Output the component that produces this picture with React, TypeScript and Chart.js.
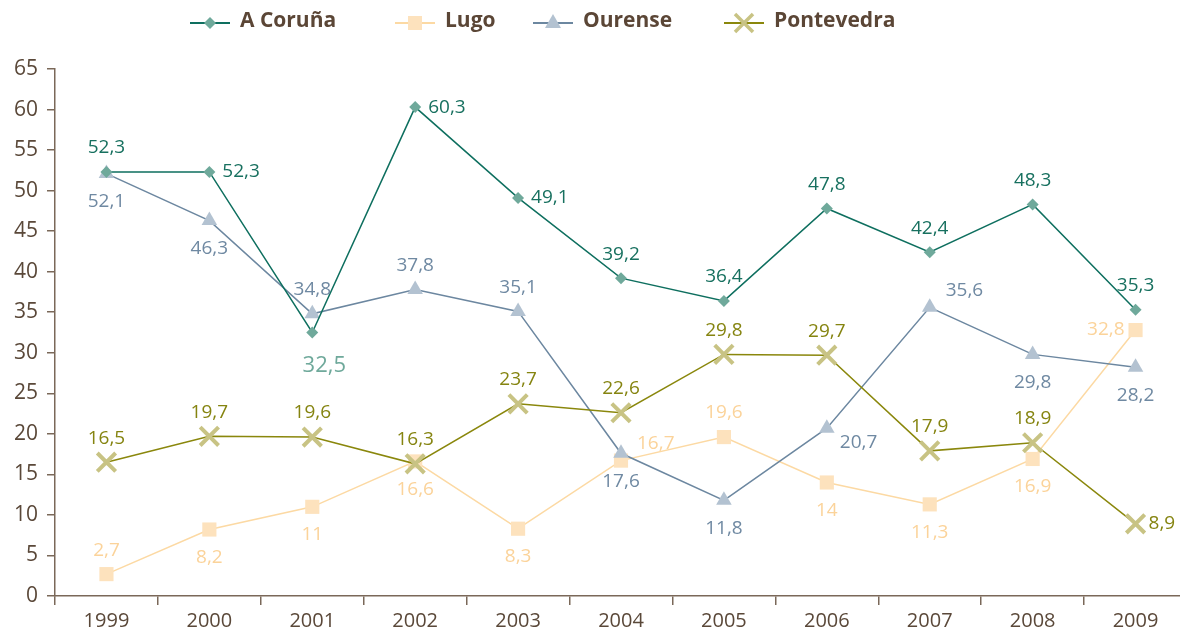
import React, { useEffect, useRef } from 'react';
import { Chart, registerables } from 'chart.js';

Chart.register(...registerables);

const years = ['1999', '2000', '2001', '2002', '2003', '2004', '2005', '2006', '2007', '2008', '2009'];
const coruna = [52.3, 52.3, 32.5, 60.3, 49.1, 39.2, 36.4, 47.8, 42.4, 48.3, 35.3];
const lugo = [2.7, 8.2, 11, 16.6, 8.3, 16.7, 19.6, 14, 11.3, 16.9, 32.8];
const ourense = [52.1, 46.3, 34.8, 37.8, 35.1, 17.6, 11.8, 20.7, 35.6, 29.8, 28.2];
const pontevedra = [16.5, 19.7, 19.6, 16.3, 23.7, 22.6, 29.8, 29.7, 17.9, 18.9, 8.9];
const seriesNames = ['A Coruña', 'Lugo', 'Ourense', 'Pontevedra'];
const yMin = 0;
const yMax = 65;
const yStep = 5;

// label placement codes: t = top, b = bottom, r = right, l = left, tr = top-right, br = bottom-right, B = emphasised bottom
const corunaLabelPos = ['t', 'r', 'B', 'r', 'r', 't', 't', 't', 't', 't', 't'];
const lugoLabelPos = ['t', 'b', 'b', 'b', 'b', 'tr', 't', 'b', 'b', 'b', 'l'];
const ourenseLabelPos = ['b', 'b', 't', 't', 't', 'b', 'b', 'br', 'tr', 'b', 'b'];
const pontevedraLabelPos = ['t', 't', 't', 't', 't', 't', 't', 't', 't', 't', 'r'];

const FONT = '"Open Sans", "DejaVu Sans", sans-serif';
const AXIS = '#7a6859';
const TICK = '#5a4839';

const styles = [
  { line: '#0e6f5f', marker: '#6fa99b', label: '#17705f', shape: 'diamond' },
  { line: '#fcd9a3', marker: '#fde2bd', label: '#fbd39a', shape: 'square' },
  { line: '#6c87a0', marker: '#b3c2d1', label: '#6f89a2', shape: 'triangle' },
  { line: '#8a870c', marker: '#c8c384', label: '#858410', shape: 'x' },
];

function fmt(v: number) {
  return String(v).replace('.', ',');
}

const labelPlugin = {
  id: 'valueLabels',
  afterDatasetsDraw(chart: any) {
    const ctx = chart.ctx;
    ctx.save();
    ctx.textBaseline = 'middle';
    chart.data.datasets.forEach((ds: any, di: number) => {
      const meta = chart.getDatasetMeta(di);
      meta.data.forEach((el: any, i: number) => {
        const text = fmt(ds.data[i]);
        let x = el.x;
        let y = el.y;
        let align: CanvasTextAlign = 'center';
        let size = 19;
        let color = ds.labelColor;
        switch (ds.labelPos[i]) {
          case 't': y -= 24; break;
          case 'b': y += 28; break;
          case 'B': y += 33; x += 12; size = 22; color = styles[0].marker; break;
          case 'r': x += 13; align = 'left'; break;
          case 'l': x -= 11; align = 'right'; break;
          case 'tr': x += 16; y -= 17; align = 'left'; break;
          case 'br': x += 13; y += 14; align = 'left'; break;
        }
        ctx.font = `${size}px ${FONT}`;
        ctx.fillStyle = color;
        ctx.textAlign = align;
        ctx.fillText(text, x, y);
      });
    });
    ctx.restore();
  },
};

function drawMarker(ctx: CanvasRenderingContext2D, shape: string, x: number, y: number, color: string) {
  ctx.save();
  ctx.fillStyle = color;
  ctx.strokeStyle = color;
  ctx.beginPath();
  if (shape === 'diamond') {
    const r = 6;
    ctx.moveTo(x, y - r); ctx.lineTo(x + r, y); ctx.lineTo(x, y + r); ctx.lineTo(x - r, y); ctx.closePath(); ctx.fill();
  } else if (shape === 'square') {
    ctx.rect(x - 7, y - 7, 14, 14); ctx.fill();
  } else if (shape === 'triangle') {
    ctx.moveTo(x, y - 9); ctx.lineTo(x + 8, y + 5); ctx.lineTo(x - 8, y + 5); ctx.closePath(); ctx.fill();
  } else {
    ctx.lineWidth = 3.5;
    const r = 9;
    ctx.moveTo(x - r, y - r); ctx.lineTo(x + r, y + r); ctx.moveTo(x + r, y - r); ctx.lineTo(x - r, y + r); ctx.stroke();
  }
  ctx.restore();
}

const legendStarts = [190, 395, 533, 724];

const legendPlugin = {
  id: 'customLegend',
  afterDraw(chart: any) {
    const ctx = chart.ctx;
    ctx.save();
    chart.data.datasets.forEach((ds: any, i: number) => {
      const sx = legendStarts[i];
      const st = styles[i];
      const ly = 23;
      ctx.strokeStyle = st.line;
      ctx.lineWidth = 2;
      ctx.beginPath();
      ctx.moveTo(sx, ly);
      ctx.lineTo(sx + 40, ly);
      ctx.stroke();
      drawMarker(ctx, st.shape, sx + 20, ly, st.marker);
      ctx.font = `bold 21px ${FONT}`;
      ctx.fillStyle = '#5b4636';
      ctx.textAlign = 'left';
      ctx.textBaseline = 'middle';
      ctx.fillText(ds.label, sx + 50, 21);
    });
    ctx.restore();
  },
};

export default function App() {
  const ref = useRef<HTMLCanvasElement>(null);
  useEffect(() => {
    document.body.style.margin = '0';
    const canvas = ref.current!;
    const mk = (i: number, data: number[], pos: string[], pointStyle: string, radius: number, order: number) => ({
      label: seriesNames[i],
      data,
      labelPos: pos,
      labelColor: styles[i].label,
      borderColor: styles[i].line,
      borderWidth: 1.5,
      backgroundColor: styles[i].marker,
      pointStyle,
      pointRadius: radius,
      pointBackgroundColor: styles[i].marker,
      pointBorderColor: styles[i].marker,
      pointBorderWidth: pointStyle === 'crossRot' ? 4 : 0,
      tension: 0,
      clip: false,
      order,
    });
    const chart = new Chart(canvas, {
      type: 'line',
      data: {
        labels: years,
        datasets: [
          mk(0, coruna, corunaLabelPos, 'rectRot', 6, 0),
          mk(1, lugo, lugoLabelPos, 'rect', 10, 3),
          mk(2, ourense, ourenseLabelPos, 'triangle', 9, 2),
          mk(3, pontevedra, pontevedraLabelPos, 'crossRot', 13, 1),
        ] as any,
      },
      options: {
        animation: false,
        responsive: false,
        devicePixelRatio: 1,
        layout: { autoPadding: false, padding: { top: 69, left: 0, right: 0, bottom: 0 } },
        plugins: { legend: { display: false }, tooltip: { enabled: false } },
        scales: {
          x: {
            offset: true,
            grid: { offset: true, drawOnChartArea: false, drawTicks: true, tickLength: 9, color: AXIS, lineWidth: 1.5 },
            border: { color: AXIS, width: 1.5 },
            ticks: { color: TICK, font: { family: FONT, size: 20 }, padding: 4, maxRotation: 0 },
            afterFit(s: any) { s.height = 38; s.paddingLeft = 0; s.paddingRight = 0; },
          },
          y: {
            min: yMin,
            max: yMax,
            ticks: { stepSize: yStep, color: TICK, font: { family: FONT, size: 21 }, padding: 9 },
            grid: { drawOnChartArea: false, drawTicks: true, tickLength: 8, color: AXIS, lineWidth: 1.5 },
            border: { color: AXIS, width: 1.5 },
            afterFit(s: any) { s.width = 55; },
          },
        },
      } as any,
      plugins: [labelPlugin, legendPlugin],
    });
    return () => chart.destroy();
  }, []);
  return (
    <div style={{ position: 'fixed', left: 0, top: 0, width: 1180, height: 634, overflow: 'hidden', background: '#fff' }}>
      <canvas ref={ref} width={1187} height={634} style={{ display: 'block' }} />
    </div>
  );
}
